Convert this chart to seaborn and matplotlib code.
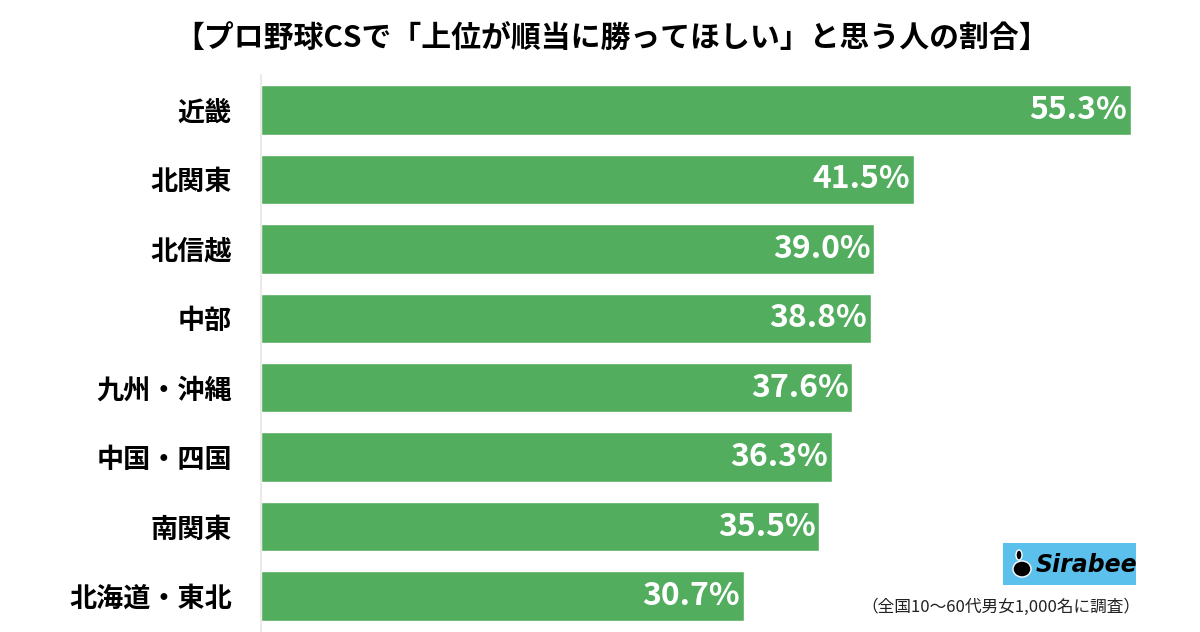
import matplotlib
matplotlib.use("Agg")
import matplotlib.pyplot as plt
import seaborn as sns
import pandas as pd
from matplotlib.patches import Rectangle, Ellipse

# -----------------------------
# DATA
# -----------------------------
regions = ["近畿", "北関東", "北信越", "中部", "九州・沖縄", "中国・四国", "南関東", "北海道・東北"]
shares = [55.3, 41.5, 39.0, 38.8, 37.6, 36.3, 35.5, 30.7]

title = "【プロ野球CSで「上位が順当に勝ってほしい」と思う人の割合】"
note = "（全国10～60代男女1,000名に調査）"

df = pd.DataFrame({"region": regions, "share": shares})

# -----------------------------
# STYLE
# -----------------------------
sns.set_theme(style="white")
plt.rcParams["font.family"] = ["Noto Sans CJK JP", "DejaVu Sans"]

fig = plt.figure(figsize=(12, 6.32), dpi=100)
ax = fig.add_axes([261 / 1200, 1.3 / 632, 899 / 1200, (630.7 - 75.3) / 632])

sns.barplot(data=df, x="share", y="region", color="#52AE5E", saturation=1,
            width=0.71, orient="h", ax=ax)

ax.set_xlim(0, 899 / 15.73)
ax.set_ylim(7.5, -0.5)
ax.set_xlabel("")
ax.set_ylabel("")
ax.set_xticks([])
ax.tick_params(axis="y", length=0, pad=21)
for lab in ax.get_yticklabels():
    lab.set_fontsize(19.5)
    lab.set_fontweight("bold")
    lab.set_color("black")

for s in ["top", "right", "bottom"]:
    ax.spines[s].set_visible(False)
ax.spines["left"].set_color("#e6e6e6")
ax.spines["left"].set_linewidth(1.2)

# value labels inside bar ends
for i, v in enumerate(shares):
    ax.text(v - 0.25, i, f"{v:.1f}%", ha="right", va="center",
            color="white", fontsize=23, fontweight="bold")

# title
fig.text(612 / 1200, 1 - 39 / 632, title, ha="center", va="center",
         fontsize=21.5, fontweight="bold", color="black")

# footnote
fig.text(1140 / 1200, 1 - 607 / 632, note, ha="right", va="center",
         fontsize=12, color="#222222")

# Sirabee logo
fig.patches.append(Rectangle((1003 / 1200, 1 - 585 / 632), 133 / 1200, 42 / 632,
                             transform=fig.transFigure, facecolor="#5BC0EB",
                             edgecolor="none"))
fig.patches.append(Ellipse((1022 / 1200, 1 - 569 / 632), 18 / 1200, 16 / 632,
                           transform=fig.transFigure, facecolor="black"))
fig.patches.append(Ellipse((1019 / 1200, 1 - 555 / 632), 6 / 1200, 10 / 632,
                           transform=fig.transFigure, facecolor="black"))
fig.text(1036 / 1200, 1 - 565 / 632, "Sirabee", ha="left", va="center",
         fontsize=17, fontweight="bold", style="italic", color="black",
         family="DejaVu Sans")

fig.savefig("out.png", dpi=100)
plt.close()
